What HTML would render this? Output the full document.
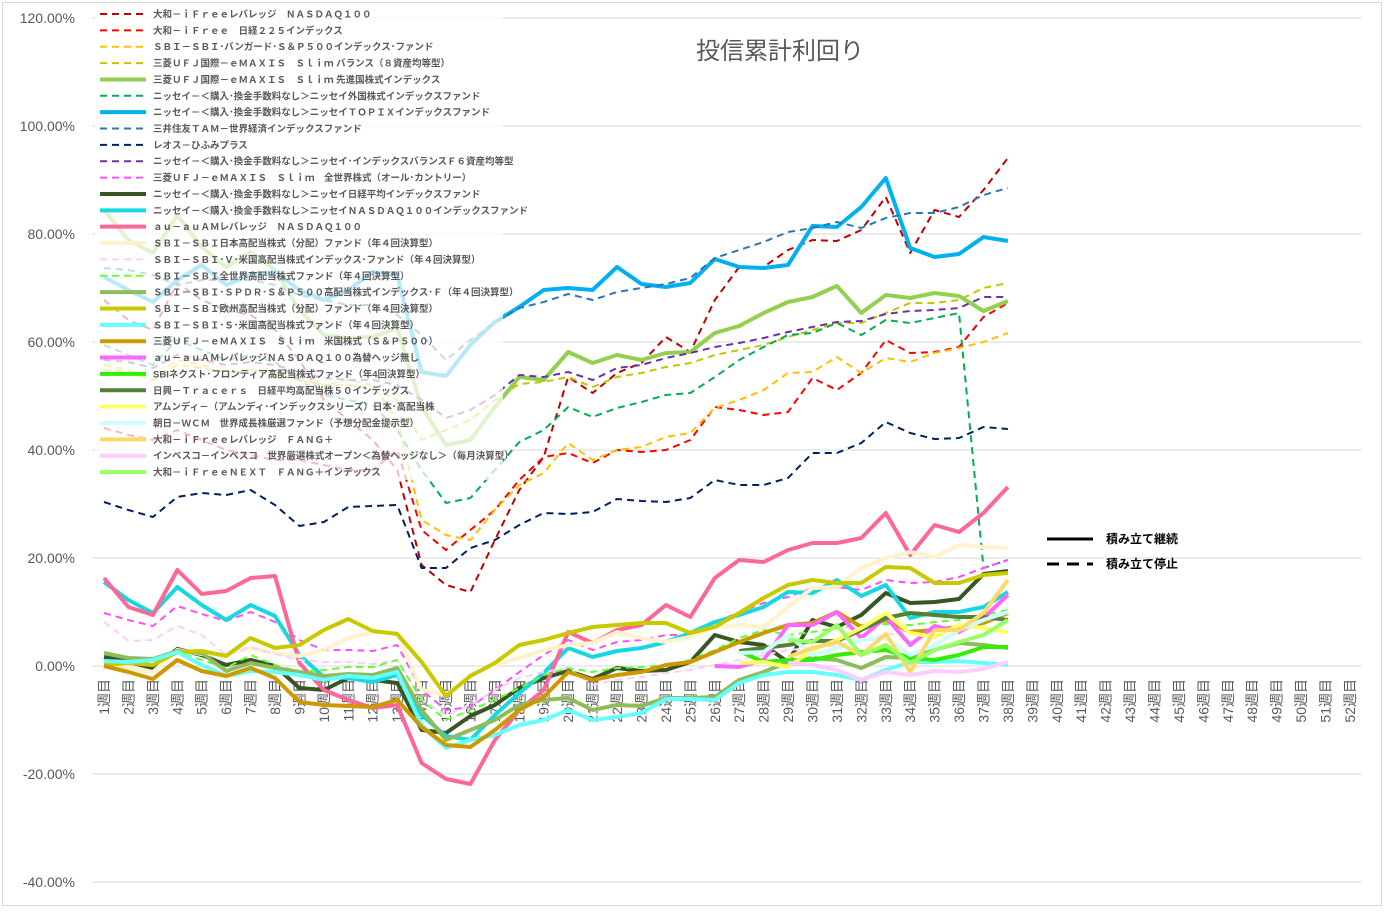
<!DOCTYPE html>
<html><head><meta charset="utf-8"><style>
body{margin:0;background:#fff;width:1385px;height:912px;overflow:hidden;font-family:"Liberation Sans","Noto Sans CJK JP",sans-serif}
</style></head><body>
<svg id="c" width="1385" height="912" xmlns="http://www.w3.org/2000/svg" style="position:absolute;left:0;top:0">
<rect x="2.5" y="2.5" width="1379" height="903" fill="#fff" stroke="#d9d9d9"/>
</svg>
<script>
const S=document.getElementById('c');const NS='http://www.w3.org/2000/svg';
function el(t,a,txt){const e=document.createElementNS(NS,t);for(const k in a)e.setAttribute(k,a[k]);if(txt!==undefined)e.textContent=txt;S.appendChild(e);return e;}
const labs=['120.00%','100.00%','80.00%','60.00%','40.00%','20.00%','0.00%','-20.00%','-40.00%'];
labs.forEach((l,i)=>{const y=18+i*108;el('line',{x1:92,x2:1362,y1:y,y2:y,stroke:'#d9d9d9','stroke-width':1});
el('text',{x:75,y:y+5,'text-anchor':'end','font-size':14,fill:'#595959'},l);});
const X=i=>104+(i-1)*24.43;
for(let i=1;i<=52;i++){el('text',{transform:`translate(${X(i)+5},679) rotate(-90)`,'text-anchor':'end','font-size':14,fill:'#595959'},i+'週目');}
el('text',{x:780,y:59,'text-anchor':'middle','font-size':24,fill:'#595959'},'投信累計利回り');
const N=null;
function late(start,arr){const r=[];for(let i=1;i<start;i++)r.push(N);return r.concat(arr);}
const series=[
['大和－ｉＦｒｅｅレバレッジ　ＮＡＳＤＡＱ１００','#c00000',1,[300,320,330,283,300,310,315,330,360,400,420,440,470,565,585,592,540,490,457,377,393,373,363,337,352,300,267,267,250,240,241,230,197,253,210,217,190,158]],
['大和－ｉＦｒｅｅ　日経２２５インデックス','#ff0000',1,[428,435,440,430,440,450,455,460,460,465,470,470,450,530,550,530,510,480,457,453,463,450,452,450,440,407,410,415,412,378,390,373,340,353,352,347,317,303]],
['ＳＢＩ－ＳＢＩ･バンガード･Ｓ＆Ｐ５００インデックス･ファンド','#ffc000',1,[365,370,380,360,365,375,370,375,380,385,380,385,420,520,535,540,510,485,473,443,460,450,447,437,433,408,400,390,373,372,357,373,358,362,353,348,342,333]],
['三菱ＵＦＪ国際－ｅＭＡＸＩＳ　Ｓｌｉｍ バランス（８資産均等型）','#c9c400',1,[370,372,380,365,368,372,370,372,380,385,385,388,400,440,430,420,400,384,382,377,387,377,373,367,363,355,350,345,337,330,323,323,313,303,303,300,288,283]],
['三菱ＵＦＪ国際－ｅＭＡＸＩＳ　Ｓｌｉｍ 先進国株式インデックス','#92d050',0,[210,240,253,215,247,267,252,270,310,335,338,337,328,407,445,440,407,377,380,352,363,355,360,353,352,333,326,313,302,297,286,313,295,298,293,296,311,301]],
['ニッセイ－＜購入･換金手数料なし＞ニッセイ外国株式インデックスファンド','#00b050',1,[345,355,365,340,350,360,355,362,380,395,400,405,430,470,503,498,470,442,430,407,417,408,402,395,393,377,360,347,335,333,323,335,320,323,318,313,568,560]],
['ニッセイ－＜購入･換金手数料なし＞ニッセイＴＯＰＩＸインデックスファンド','#00b0f0',0,[277,290,302,280,265,285,275,272,290,300,290,272,275,372,376,345,322,307,290,288,290,267,284,287,283,259,267,268,265,226,227,207,178,248,257,254,237,241]],
['三井住友ＴＡＭ－世界経済インデックスファンド','#2e75b6',1,[268,270,275,285,280,280,280,285,295,300,305,305,315,335,360,340,323,308,302,294,300,292,288,284,278,258,250,242,232,228,222,228,218,213,213,207,195,188]],
['レオス－ひふみプラス','#002060',1,[502,510,517,497,493,495,490,505,526,522,507,506,505,568,568,548,540,525,513,514,512,499,501,502,498,480,485,485,478,453,453,443,422,433,439,438,427,429]],
['ニッセイ－＜購入･換金手数料なし＞ニッセイ･インデックスバランスＦ６資産均等型','#7030a0',1,[360,362,368,355,360,365,362,365,372,378,380,380,385,400,418,410,395,375,377,372,380,368,365,358,353,347,343,338,332,327,322,321,314,311,310,308,297,297]],
['三菱ＵＦＪ－ｅＭＡＸＩＳ　Ｓｌｉｍ　全世界株式（オール･カントリー）','#ff4dff',1,[613,620,626,606,614,621,612,622,640,650,650,651,645,690,710,707,690,672,655,640,650,642,640,635,635,623,612,603,597,588,587,590,580,583,582,577,568,560]],
['ニッセイ－＜購入･換金手数料なし＞ニッセイ日経平均インデックスファンド','#375623',0,[657,662,668,649,655,665,660,666,688,690,678,680,683,730,733,716,705,688,678,671,679,668,671,670,662,635,642,645,662,620,627,615,593,603,602,599,574,571]],
['ニッセイ－＜購入･換金手数料なし＞ニッセイＮＡＳＤＡＱ１００インデックスファンド','#17d7e0',0,[582,600,613,587,605,620,605,616,655,677,678,682,675,715,736,740,715,693,673,648,657,651,648,642,633,622,615,607,592,593,580,596,585,618,612,612,607,592]],
['ａｕ－ａｕＡＭレバレッジ　ＮＡＳＤＡＱ１００','#ff6699',0,[578,607,615,570,594,591,578,576,663,690,700,708,705,763,779,784,740,710,690,632,643,630,625,605,617,578,560,562,550,543,543,538,513,555,525,532,513,487]],
['ＳＢＩ－ＳＢＩ日本高配当株式（分配）ファンド（年４回決算型）','#fff2cc',0,[662,668,672,650,654,654,648,653,656,650,638,632,633,690,695,675,665,658,650,645,643,632,638,642,637,627,625,627,607,588,587,568,558,552,557,545,547,548]],
['ＳＢＩ－ＳＢＩ･Ｖ･米国高配当株式インデックス･ファンド（年４回決算型）','#ffccff',1,[622,641,640,626,635,655,647,654,660,662,662,664,660,700,715,705,690,678,672,668,685,680,677,673,670,665,660,655,650,648,645,640,635,630,630,625,620,615]],
['ＳＢＩ－ＳＢＩ全世界高配当株式ファンド（年４回決算型）','#66ff33',1,[660,662,664,652,660,668,655,665,672,670,667,667,660,700,720,710,700,688,675,668,672,668,667,665,660,650,638,630,635,632,628,625,624,625,622,620,615,610]],
['ＳＢＩ－ＳＢＩ･ＳＰＤＲ･Ｓ＆Ｐ５００高配当株式インデックス･Ｆ（年４回決算型）','#8fbc5a',0,[653,658,659,651,653,671,663,668,672,676,674,675,668,710,740,730,720,705,700,698,710,705,706,698,698,697,680,672,662,658,660,668,657,658,650,643,645,648]],
['ＳＢＩ－ＳＢＩ欧州高配当株式（分配）ファンド（年４回決算型）','#c9c900',0,[665,663,665,652,651,656,638,648,645,630,619,631,634,662,696,676,663,645,640,633,627,625,623,623,633,627,613,598,585,580,583,583,567,568,583,583,575,573]],
['ＳＢＩ－ＳＢＩ･Ｓ･米国高配当株式ファンド（年４回決算型）','#66ffff',0,[661,662,660,652,665,676,671,672,675,680,676,678,672,725,748,740,735,725,720,710,720,717,713,699,699,700,683,675,672,672,675,680,670,662,662,661,663,665]],
['三菱ＵＦＪ－ｅＭＡＸＩＳ　Ｓｌｉｍ　米国株式（Ｓ＆Ｐ５００）','#cc9900',0,[666,672,679,660,671,676,668,678,702,705,706,707,700,727,745,747,730,710,697,672,680,675,672,665,662,652,642,633,625,623,612,627,620,632,630,627,623,613]],
['ａｕ－ａｕＡＭレバレッジＮＡＳＤＡＱ１００為替ヘッジ無し','#ff66ff',0,late(26,[666,667,660,625,625,612,638,617,645,626,632,618,595])],
['SBIネクスト･フロンティア高配当株式ファンド（年4回決算型）','#33ee00',0,late(27,[651,662,660,660,655,652,650,658,660,655,647,647])],
['日興－Ｔｒａｃｅｒｓ　日経平均高配当株５０インデックス','#548235',0,late(27,[651,648,645,641,641,630,618,613,615,617,617,620])],
['アムンディ－（アムンディ･インデックスシリーズ）日本･高配当株','#ffff66',0,late(27,[663,662,667,650,640,628,613,633,637,625,628,632])],
['朝日－ＷＣＭ　世界成長株厳選ファンド（予想分配金提示型）','#ccffff',0,late(27,[653,652,635,655,648,640,638,655,645,630,620,612])],
['大和－ｉＦｒｅｅレバレッジ　ＦＡＮＧ＋','#ffd966',0,late(29,[657,648,642,655,634,672,630,630,613,580])],
['インベスコ－インベスコ　世界厳選株式オープン＜為替ヘッジなし＞（毎月決算型）','#ffccff',0,late(29,[663,665,670,680,672,675,671,672,669,662])],
['大和－ｉＦｒｅｅＮＥＸＴ　ＦＡＮＧ＋インデックス','#99ff66',0,late(29,[640,642,625,655,645,663,650,642,635,620])]
];
series.forEach(s=>{const pts=[];s[3].forEach((v,i)=>{if(v!==null)pts.push(X(i+1).toFixed(1)+','+v);});
const a={points:pts.join(' '),fill:'none',stroke:s[1],'stroke-width':s[2]?2:4,'stroke-linejoin':'round'};
if(s[2])a['stroke-dasharray']='7,5';el('polyline',a);});
el('rect',{x:95,y:5,width:408,height:475,fill:'#fff','fill-opacity':0.72});
series.forEach((s,i)=>{const y=14+i*16.36;
const a={x1:100,x2:146,y1:y,y2:y,stroke:s[1],'stroke-width':s[2]?2:4};if(s[2])a['stroke-dasharray']='7,5';el('line',a);
el('text',{x:153,y:y+3.5,'font-size':9.5,'font-weight':'bold',fill:'#595959'},s[0]);});
el('line',{x1:1047,x2:1093,y1:539,y2:539,stroke:'#000','stroke-width':3});
el('line',{x1:1047,x2:1093,y1:564,y2:564,stroke:'#000','stroke-width':3,'stroke-dasharray':'12,8'});
el('text',{x:1106,y:543,'font-size':12,'font-weight':'bold',fill:'#000'},'積み立て継続');
el('text',{x:1106,y:568,'font-size':12,'font-weight':'bold',fill:'#000'},'積み立て停止');
</script>
</body></html>
